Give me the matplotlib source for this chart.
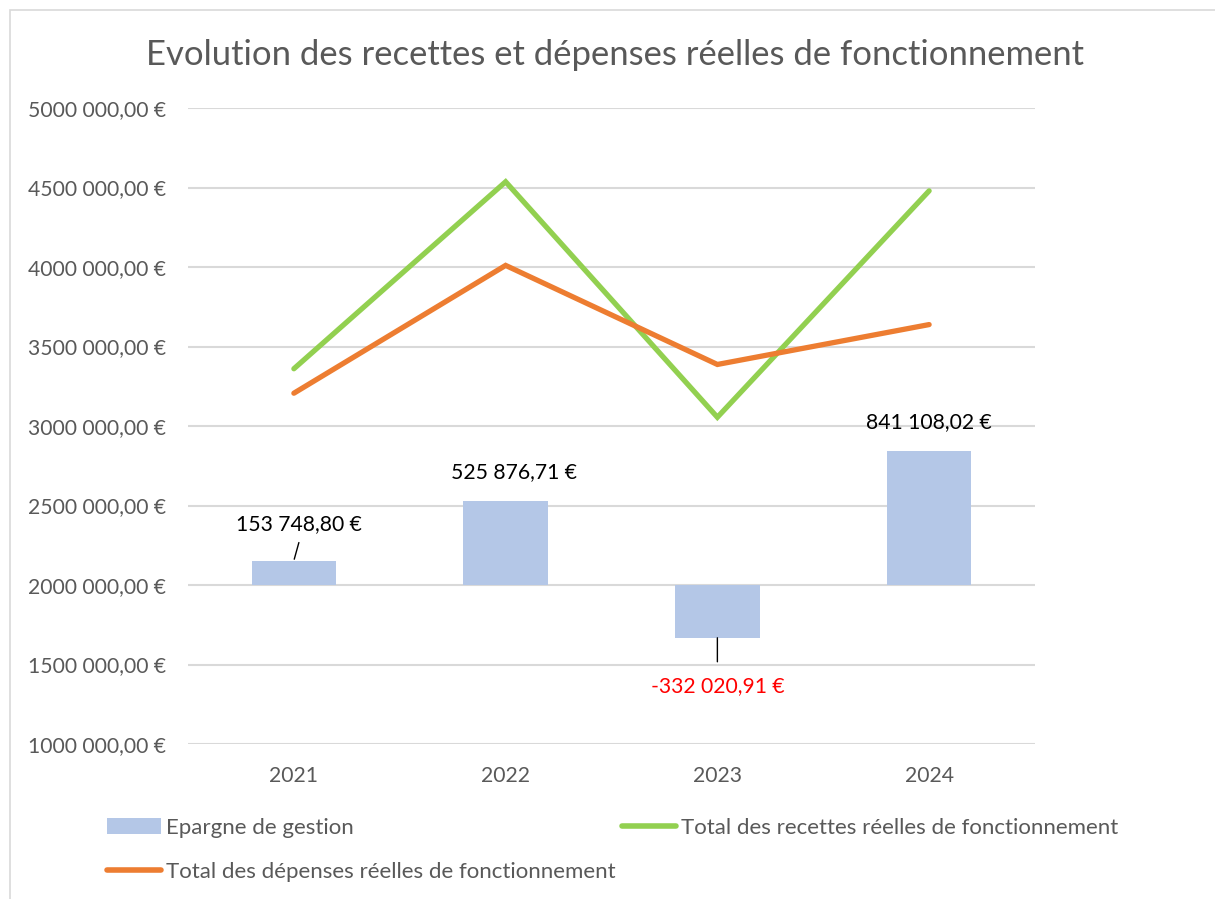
import matplotlib
matplotlib.use("Agg")
import matplotlib.pyplot as plt
from matplotlib.patches import Rectangle, Patch
from matplotlib.lines import Line2D

plt.rcParams['font.family'] = ['Lato', 'DejaVu Sans']

years = ["2021", "2022", "2023", "2024"]
epargne = [153748.80, 525876.71, -332020.91, 841108.02]
recettes = [3360000, 4536000, 3055000, 4479000]
depenses = [3206251, 4010123, 3387021, 3637892]
y_ticks = [1000000, 1500000, 2000000, 2500000, 3000000, 3500000, 4000000, 4500000, 5000000]
base = 2000000

title = "Evolution des recettes et dépenses réelles de fonctionnement"
lbl_ep = "Epargne de gestion"
lbl_rec = "Total des recettes réelles de fonctionnement"
lbl_dep = "Total des dépenses réelles de fonctionnement"

C_BAR = "#B4C7E7"
C_REC = "#92D050"
C_DEP = "#ED7D31"
C_GRID = "#D9D9D9"
C_TXT = "#595959"


def fmt_axis(v):
    v = int(round(v))
    return f"{v // 1000} {v % 1000:03d},00 €"


def fmt_label(v):
    s = "-" if v < 0 else ""
    a = abs(v)
    ent = int(a)
    dec = int(round((a - ent) * 100))
    if dec == 100:
        ent += 1
        dec = 0
    grp = f"{ent:,}".replace(",", " ")
    return f"{s}{grp},{dec:02d} €"


W, H = 1215, 899
fig = plt.figure(figsize=(W / 100, H / 100), dpi=100)
fig.patch.set_facecolor("white")
fig.patches.append(Rectangle((10 / W, -0.05), 1.2, 1 - 10 / H + 0.05, transform=fig.transFigure,
                             fill=False, edgecolor=C_GRID, lw=1.2))

ax = fig.add_axes([188 / W, 1 - 744 / H, (1035 - 188) / W, (744 - 108) / H])
x = list(range(len(years)))

ax.set_ylim(1000000, 5000000)
ax.set_xlim(-0.5, len(years) - 0.5)
ax.set_yticks(y_ticks)
ax.set_yticklabels([fmt_axis(v) for v in y_ticks])
ax.yaxis.grid(True, color=C_GRID, lw=1.5)
ax.set_axisbelow(True)
for s in ax.spines.values():
    s.set_visible(False)
ax.tick_params(axis="both", length=0, colors=C_TXT, labelsize=15.2)
ax.tick_params(axis="y", pad=16)
ax.tick_params(axis="x", pad=16)
ax.set_xticks(x)
ax.set_xticklabels(years)

bars = ax.bar(x, epargne, bottom=base, width=0.4, color=C_BAR, zorder=2)
l_rec, = ax.plot(x, recettes, color=C_REC, lw=3.8, solid_capstyle="round", solid_joinstyle="miter", zorder=3)
l_dep, = ax.plot(x, depenses, color=C_DEP, lw=3.8, solid_capstyle="round", solid_joinstyle="miter", zorder=3)

# data labels
label_offsets = [(5, 36), (8, 29), (0, -48), (0, 29)]
leader = [True, False, True, False]
for i, v in enumerate(epargne):
    end = base + v
    dx, dy = label_offsets[i]
    ax.annotate(fmt_label(v), xy=(x[i], end), xytext=(dx, dy), textcoords="offset pixels",
                ha="center", va="center", fontsize=15.2,
                color=("#FF0000" if v < 0 else "black"), zorder=5)
    if leader[i]:
        if v >= 0:
            ax.annotate("", xy=(x[i], end), xytext=(5, 18), textcoords="offset pixels",
                        arrowprops=dict(arrowstyle="-", color="black", lw=1, shrinkA=0, shrinkB=1))
        else:
            ax.annotate("", xy=(x[i], end), xytext=(0, -24), textcoords="offset pixels",
                        arrowprops=dict(arrowstyle="-", color="black", lw=1, shrinkA=0, shrinkB=0))

fig.text(615 / W, 1 - 55 / H, title, ha="center", va="center", fontsize=24.9, color=C_TXT)

# legends
leg_kw = dict(frameon=False, fontsize=16, labelcolor=C_TXT, handlelength=2.45, handletextpad=0.22,
              borderaxespad=0, borderpad=0)
h_ep = Patch(facecolor=C_BAR)
h_rec = Line2D([], [], color=C_REC, lw=4, solid_capstyle="round")
h_dep = Line2D([], [], color=C_DEP, lw=4, solid_capstyle="round")
fig.legend([h_ep], [lbl_ep], loc="center left", bbox_to_anchor=(107 / W, 1 - 828 / H), **leg_kw)
fig.legend([h_rec], [lbl_rec], loc="center left", bbox_to_anchor=(622 / W, 1 - 828 / H), **leg_kw)
fig.legend([h_dep], [lbl_dep], loc="center left", bbox_to_anchor=(107 / W, 1 - 872 / H), **leg_kw)

fig.savefig("out.png", dpi=100, facecolor="white")
